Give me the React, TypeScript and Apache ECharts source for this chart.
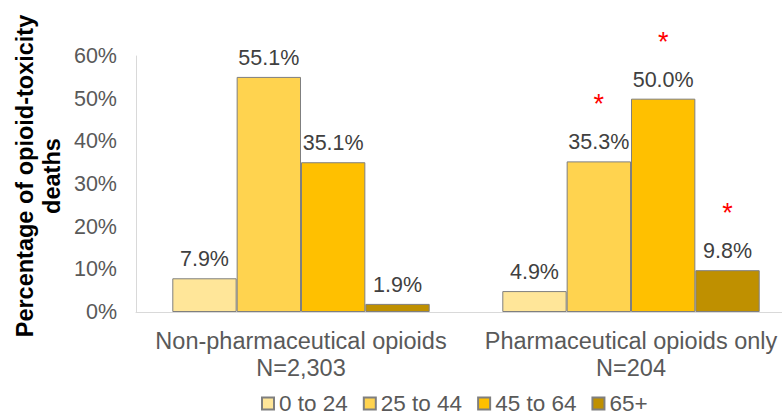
import React, { useEffect, useRef } from "react";
import * as echarts from "echarts";

const categories = ["Non-pharmaceutical opioids\nN=2,303", "Pharmaceutical opioids only\nN=204"];
const ageGroups = ["0 to 24", "25 to 44", "45 to 64", "65+"];
const age0to24 = [7.9, 4.9];
const age25to44 = [55.1, 35.3];
const age45to64 = [35.1, 50.0];
const age65plus = [1.9, 9.8];
const significant = [
  [false, false],
  [false, true],
  [false, true],
  [false, true],
];
const colors = ["#FFE699", "#FFD34F", "#FFC000", "#BF9000"];
const yTicks = [0, 10, 20, 30, 40, 50, 60];
const yTitle = "Percentage of opioid-toxicity\ndeaths";

export default function App() {
  const ref = useRef<HTMLDivElement>(null);
  useEffect(() => {
    document.body.style.margin = "0";
    const chart = echarts.init(ref.current!, null, { renderer: "svg" });
    const allData = [age0to24, age25to44, age45to64, age65plus];
    const font = "Liberation Sans, Arial, sans-serif";
    chart.setOption({
      animation: false,
      textStyle: { fontFamily: font },
      grid: { left: 136, top: 56, width: 660, height: 256, containLabel: false, outerBoundsMode: "none" },
      graphic: [
        {
          type: "text",
          x: 38,
          y: 176,
          rotation: Math.PI / 2,
          style: {
            text: yTitle,
            fontSize: 23.5,
            fontWeight: "bold",
            fill: "#000",
            fontFamily: font,
            lineHeight: 27,
            align: "center",
            verticalAlign: "middle",
          },
        },
      ],
      legend: {
        data: ageGroups,
        left: 261,
        top: 392,
        padding: 0,
        itemWidth: 12,
        itemHeight: 12,
        itemGap: 15,
        icon: "rect",
        textStyle: { fontSize: 22.5, color: "#595959", fontFamily: font },
      },
      xAxis: {
        type: "category",
        data: categories,
        axisLine: { lineStyle: { color: "#d9d9d9", width: 1 } },
        axisTick: { show: false },
        axisLabel: { interval: 0, hideOverlap: false, fontSize: 23.5, color: "#595959", lineHeight: 27, margin: 15, fontFamily: font },
      },
      yAxis: {
        type: "value",
        min: 0,
        max: 60,
        interval: 10,
        axisLine: { show: true, lineStyle: { color: "#d9d9d9", width: 1 } },
        axisTick: { show: false },
        splitLine: { show: false },
        axisLabel: {
          fontSize: 21.5,
          color: "#595959",
          margin: 19,
          fontFamily: font,
          formatter: (v: number) => (yTicks.includes(v) ? v + "%" : ""),
        },
      },
      series: ageGroups.map((name, i) => ({
        name,
        type: "bar",
        data: allData[i],
        barGap: "0%",
        barCategoryGap: "22%",
        itemStyle: { color: colors[i], borderColor: "#7f7f7f", borderWidth: 1 },
        label: {
          show: true,
          position: "top",
          distance: 7,
          formatter: (p: any) =>
            (significant[i][p.dataIndex] ? "{star|*}\n" : "") + "{val|" + p.value.toFixed(1) + "%}",
          rich: {
            val: { fontSize: 21.5, color: "#404040", fontFamily: font, lineHeight: 24 },
            star: { fontSize: 27, color: "#ff0000", fontFamily: font, lineHeight: 52 },
          },
        },
      })),
    });
    return () => chart.dispose();
  }, []);
  return <div ref={ref} style={{ width: 782, height: 415 }} />;
}
